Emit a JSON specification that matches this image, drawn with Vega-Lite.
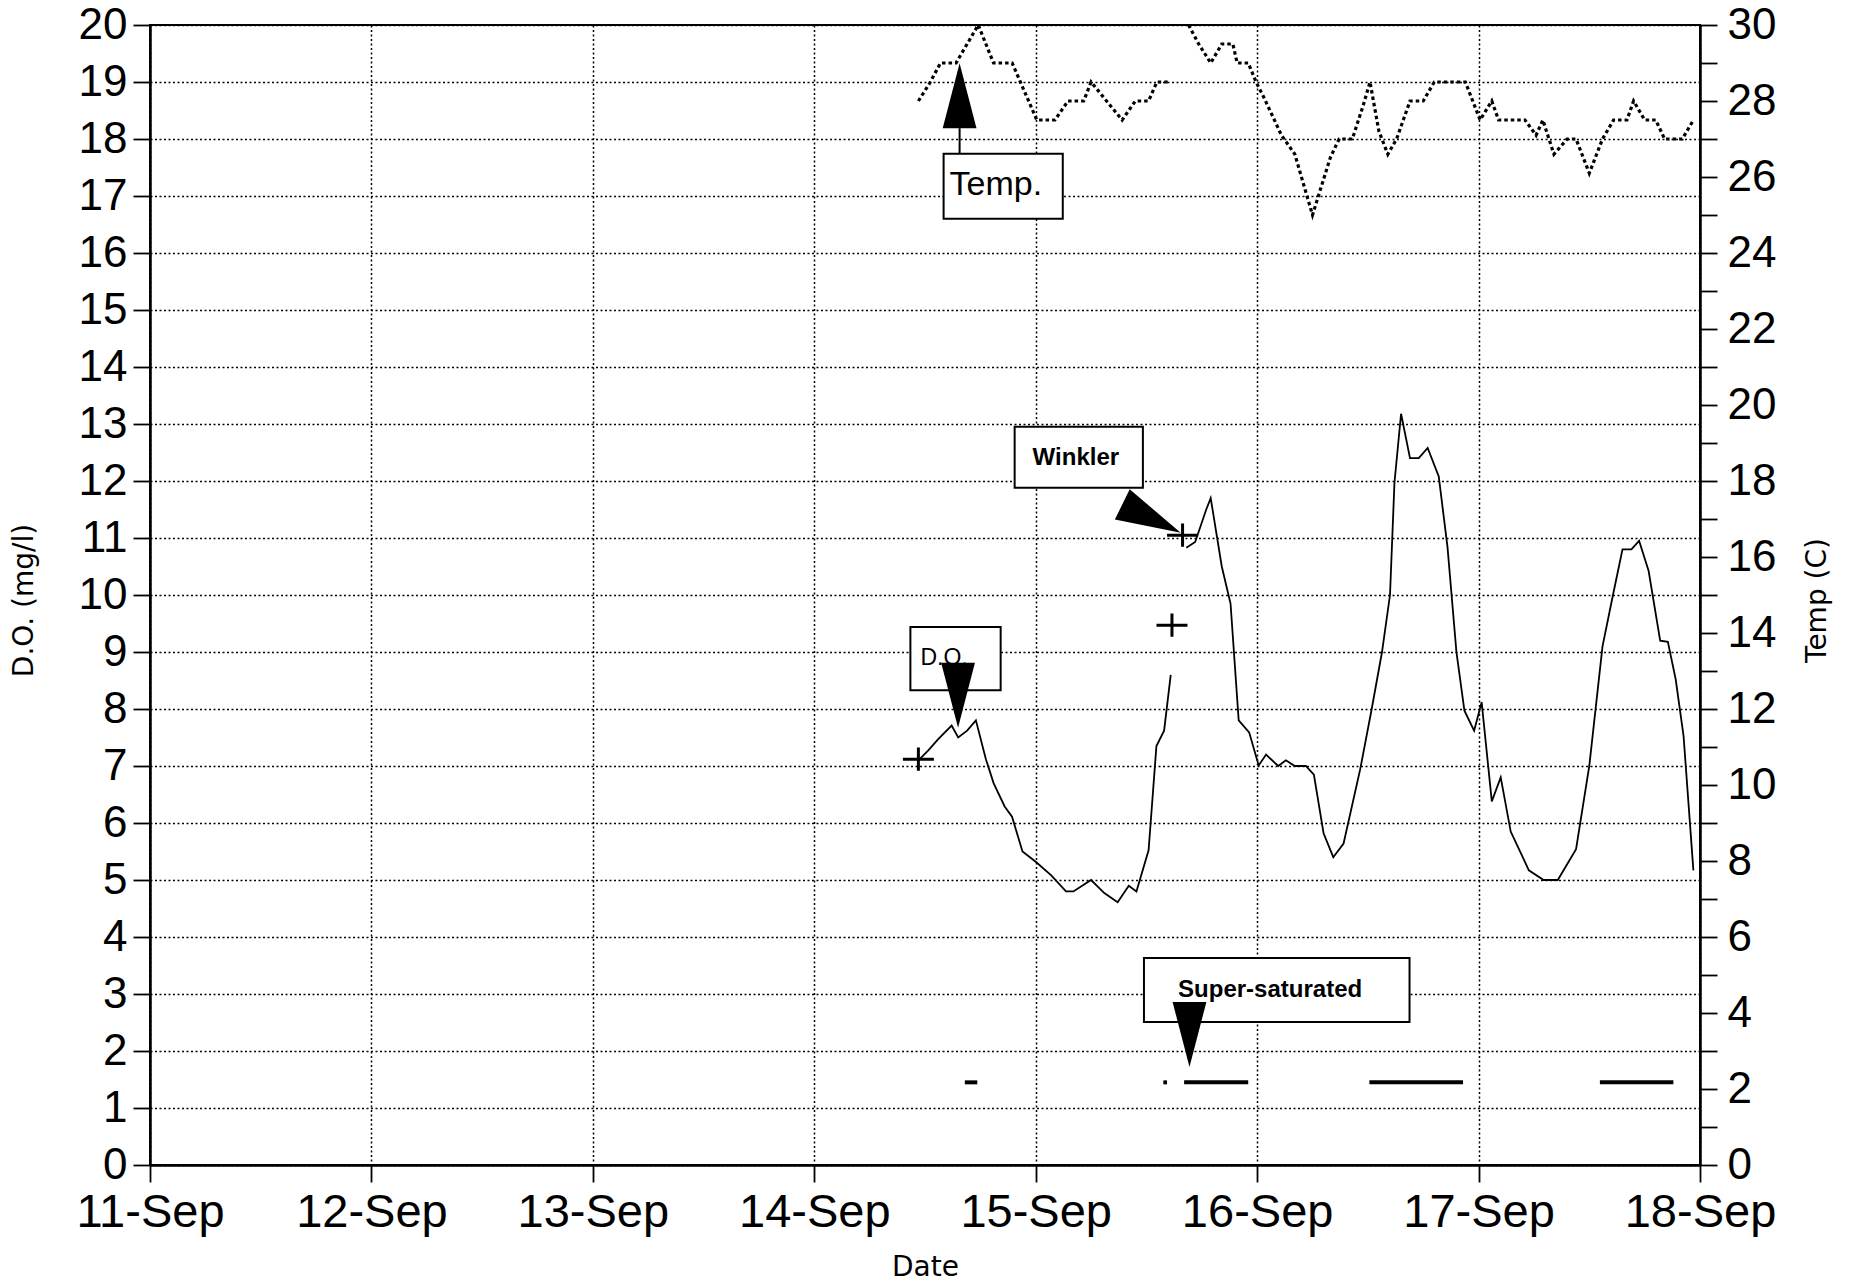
{
  "$schema": "https://vega.github.io/schema/vega-lite/v6.json",
  "width": 1550,
  "height": 1140,
  "autosize": {"type": "none"},
  "padding": {"left": 150, "top": 25, "right": 158, "bottom": 119},
  "background": "white",
  "config": {
    "view": {"stroke": "black", "strokeWidth": 2},
    "font": "Liberation Sans",
    "axis": {
      "domainColor": "black", "domainWidth": 2.5,
      "tickColor": "black", "tickWidth": 1.8, "tickSize": 17,
      "labelColor": "black", "labelFont": "Liberation Sans",
      "titleColor": "black", "titleFont": "DejaVu Sans", "titleFontWeight": "normal",
      "gridColor": "black", "gridDash": [2, 2.5], "gridWidth": 1.5, "gridOpacity": 1,
      "labelOverlap": false, "labelBound": false
    }
  },
  "datasets": {
    "do": [
      {"t": "1995-09-14T11:17", "v": 7.1, "seg": 1},
      {"t": "1995-09-14T12:20", "v": 7.27, "seg": 1},
      {"t": "1995-09-14T13:26", "v": 7.47, "seg": 1},
      {"t": "1995-09-14T14:53", "v": 7.71, "seg": 1},
      {"t": "1995-09-14T15:36", "v": 7.5, "seg": 1},
      {"t": "1995-09-14T16:34", "v": 7.62, "seg": 1},
      {"t": "1995-09-14T17:31", "v": 7.8, "seg": 1},
      {"t": "1995-09-14T18:36", "v": 7.12, "seg": 1},
      {"t": "1995-09-14T19:26", "v": 6.7, "seg": 1},
      {"t": "1995-09-14T20:38", "v": 6.29, "seg": 1},
      {"t": "1995-09-14T21:26", "v": 6.11, "seg": 1},
      {"t": "1995-09-14T22:34", "v": 5.5, "seg": 1},
      {"t": "1995-09-15T00:00", "v": 5.32, "seg": 1},
      {"t": "1995-09-15T01:41", "v": 5.08, "seg": 1},
      {"t": "1995-09-15T03:17", "v": 4.8, "seg": 1},
      {"t": "1995-09-15T04:05", "v": 4.8, "seg": 1},
      {"t": "1995-09-15T06:00", "v": 5.0, "seg": 1},
      {"t": "1995-09-15T07:26", "v": 4.77, "seg": 1},
      {"t": "1995-09-15T08:53", "v": 4.61, "seg": 1},
      {"t": "1995-09-15T10:05", "v": 4.9, "seg": 1},
      {"t": "1995-09-15T10:55", "v": 4.8, "seg": 1},
      {"t": "1995-09-15T12:14", "v": 5.52, "seg": 1},
      {"t": "1995-09-15T13:05", "v": 7.35, "seg": 1},
      {"t": "1995-09-15T13:55", "v": 7.62, "seg": 1},
      {"t": "1995-09-15T14:38", "v": 8.6, "seg": 1},
      {"t": "1995-09-15T16:19", "v": 10.83, "seg": 2},
      {"t": "1995-09-15T17:17", "v": 10.93, "seg": 2},
      {"t": "1995-09-15T18:29", "v": 11.5, "seg": 2},
      {"t": "1995-09-15T18:58", "v": 11.7, "seg": 2},
      {"t": "1995-09-15T20:10", "v": 10.5, "seg": 2},
      {"t": "1995-09-15T21:07", "v": 9.85, "seg": 2},
      {"t": "1995-09-15T22:00", "v": 7.8, "seg": 2},
      {"t": "1995-09-15T23:08", "v": 7.59, "seg": 2},
      {"t": "1995-09-16T00:10", "v": 7.01, "seg": 2},
      {"t": "1995-09-16T00:58", "v": 7.2, "seg": 2},
      {"t": "1995-09-16T02:17", "v": 7.0, "seg": 2},
      {"t": "1995-09-16T03:07", "v": 7.1, "seg": 2},
      {"t": "1995-09-16T04:05", "v": 7.0, "seg": 2},
      {"t": "1995-09-16T05:17", "v": 7.0, "seg": 2},
      {"t": "1995-09-16T06:09", "v": 6.85, "seg": 2},
      {"t": "1995-09-16T07:12", "v": 5.82, "seg": 2},
      {"t": "1995-09-16T08:15", "v": 5.4, "seg": 2},
      {"t": "1995-09-16T09:22", "v": 5.64, "seg": 2},
      {"t": "1995-09-16T11:10", "v": 6.94, "seg": 2},
      {"t": "1995-09-16T12:25", "v": 8.0, "seg": 2},
      {"t": "1995-09-16T13:32", "v": 9.0, "seg": 2},
      {"t": "1995-09-16T14:24", "v": 10.0, "seg": 2},
      {"t": "1995-09-16T14:53", "v": 11.97, "seg": 2},
      {"t": "1995-09-16T15:36", "v": 13.18, "seg": 2},
      {"t": "1995-09-16T16:34", "v": 12.4, "seg": 2},
      {"t": "1995-09-16T17:31", "v": 12.4, "seg": 2},
      {"t": "1995-09-16T18:29", "v": 12.58, "seg": 2},
      {"t": "1995-09-16T19:41", "v": 12.08, "seg": 2},
      {"t": "1995-09-16T20:38", "v": 10.84, "seg": 2},
      {"t": "1995-09-16T21:36", "v": 9.0, "seg": 2},
      {"t": "1995-09-16T22:28", "v": 7.97, "seg": 2},
      {"t": "1995-09-16T23:31", "v": 7.62, "seg": 2},
      {"t": "1995-09-17T00:20", "v": 8.12, "seg": 2},
      {"t": "1995-09-17T01:26", "v": 6.38, "seg": 2},
      {"t": "1995-09-17T02:24", "v": 6.8, "seg": 2},
      {"t": "1995-09-17T03:29", "v": 5.85, "seg": 2},
      {"t": "1995-09-17T05:27", "v": 5.17, "seg": 2},
      {"t": "1995-09-17T07:03", "v": 5.0, "seg": 2},
      {"t": "1995-09-17T08:35", "v": 5.0, "seg": 2},
      {"t": "1995-09-17T10:34", "v": 5.54, "seg": 2},
      {"t": "1995-09-17T12:00", "v": 7.0, "seg": 2},
      {"t": "1995-09-17T13:26", "v": 9.1, "seg": 2},
      {"t": "1995-09-17T14:34", "v": 10.0, "seg": 2},
      {"t": "1995-09-17T15:36", "v": 10.8, "seg": 2},
      {"t": "1995-09-17T16:34", "v": 10.8, "seg": 2},
      {"t": "1995-09-17T17:24", "v": 10.95, "seg": 2},
      {"t": "1995-09-17T18:26", "v": 10.42, "seg": 2},
      {"t": "1995-09-17T19:41", "v": 9.2, "seg": 2},
      {"t": "1995-09-17T20:31", "v": 9.18, "seg": 2},
      {"t": "1995-09-17T21:22", "v": 8.52, "seg": 2},
      {"t": "1995-09-17T22:13", "v": 7.53, "seg": 2},
      {"t": "1995-09-17T23:17", "v": 5.17, "seg": 2}
    ],
    "temp": [
      {"t": "1995-09-14T11:17", "v": 28.0, "seg": 1},
      {"t": "1995-09-14T12:29", "v": 28.46, "seg": 1},
      {"t": "1995-09-14T13:41", "v": 29.0, "seg": 1},
      {"t": "1995-09-14T15:22", "v": 29.0, "seg": 1},
      {"t": "1995-09-14T17:46", "v": 30.0, "seg": 1},
      {"t": "1995-09-14T19:26", "v": 29.0, "seg": 1},
      {"t": "1995-09-14T21:27", "v": 29.0, "seg": 1},
      {"t": "1995-09-15T00:07", "v": 27.5, "seg": 1},
      {"t": "1995-09-15T02:05", "v": 27.5, "seg": 1},
      {"t": "1995-09-15T03:30", "v": 28.0, "seg": 1},
      {"t": "1995-09-15T05:12", "v": 28.0, "seg": 1},
      {"t": "1995-09-15T06:00", "v": 28.5, "seg": 1},
      {"t": "1995-09-15T07:41", "v": 28.0, "seg": 1},
      {"t": "1995-09-15T09:22", "v": 27.5, "seg": 1},
      {"t": "1995-09-15T10:48", "v": 28.0, "seg": 1},
      {"t": "1995-09-15T12:14", "v": 28.0, "seg": 1},
      {"t": "1995-09-15T13:08", "v": 28.5, "seg": 1},
      {"t": "1995-09-15T14:33", "v": 28.5, "seg": 1},
      {"t": "1995-09-15T16:34", "v": 30.0, "seg": 2},
      {"t": "1995-09-15T17:40", "v": 29.5, "seg": 2},
      {"t": "1995-09-15T18:58", "v": 29.0, "seg": 2},
      {"t": "1995-09-15T20:10", "v": 29.5, "seg": 2},
      {"t": "1995-09-15T21:22", "v": 29.5, "seg": 2},
      {"t": "1995-09-15T21:50", "v": 29.0, "seg": 2},
      {"t": "1995-09-15T23:02", "v": 29.0, "seg": 2},
      {"t": "1995-09-15T23:53", "v": 28.5, "seg": 2},
      {"t": "1995-09-16T00:43", "v": 28.1, "seg": 2},
      {"t": "1995-09-16T02:38", "v": 27.1, "seg": 2},
      {"t": "1995-09-16T04:05", "v": 26.6, "seg": 2},
      {"t": "1995-09-16T06:00", "v": 25.0, "seg": 2},
      {"t": "1995-09-16T07:55", "v": 26.5, "seg": 2},
      {"t": "1995-09-16T08:53", "v": 27.0, "seg": 2},
      {"t": "1995-09-16T10:19", "v": 27.0, "seg": 2},
      {"t": "1995-09-16T11:31", "v": 27.9, "seg": 2},
      {"t": "1995-09-16T12:14", "v": 28.5, "seg": 2},
      {"t": "1995-09-16T13:12", "v": 27.2, "seg": 2},
      {"t": "1995-09-16T14:10", "v": 26.6, "seg": 2},
      {"t": "1995-09-16T15:07", "v": 27.0, "seg": 2},
      {"t": "1995-09-16T16:34", "v": 28.0, "seg": 2},
      {"t": "1995-09-16T18:00", "v": 28.0, "seg": 2},
      {"t": "1995-09-16T19:12", "v": 28.5, "seg": 2},
      {"t": "1995-09-16T22:34", "v": 28.5, "seg": 2},
      {"t": "1995-09-17T00:10", "v": 27.5, "seg": 2},
      {"t": "1995-09-17T01:26", "v": 28.0, "seg": 2},
      {"t": "1995-09-17T02:10", "v": 27.5, "seg": 2},
      {"t": "1995-09-17T05:02", "v": 27.5, "seg": 2},
      {"t": "1995-09-17T06:14", "v": 27.1, "seg": 2},
      {"t": "1995-09-17T06:58", "v": 27.5, "seg": 2},
      {"t": "1995-09-17T08:10", "v": 26.6, "seg": 2},
      {"t": "1995-09-17T09:36", "v": 27.0, "seg": 2},
      {"t": "1995-09-17T10:34", "v": 27.0, "seg": 2},
      {"t": "1995-09-17T12:00", "v": 26.1, "seg": 2},
      {"t": "1995-09-17T13:26", "v": 27.0, "seg": 2},
      {"t": "1995-09-17T14:38", "v": 27.5, "seg": 2},
      {"t": "1995-09-17T16:05", "v": 27.5, "seg": 2},
      {"t": "1995-09-17T16:48", "v": 28.0, "seg": 2},
      {"t": "1995-09-17T18:00", "v": 27.5, "seg": 2},
      {"t": "1995-09-17T19:12", "v": 27.5, "seg": 2},
      {"t": "1995-09-17T20:10", "v": 27.0, "seg": 2},
      {"t": "1995-09-17T22:05", "v": 27.0, "seg": 2},
      {"t": "1995-09-17T23:17", "v": 27.5, "seg": 2}
    ],
    "winkler": [
      {"t": "1995-09-14T11:17", "v": 7.12},
      {"t": "1995-09-15T14:46", "v": 9.47},
      {"t": "1995-09-15T15:55", "v": 11.05}
    ],
    "supersat": [
      {"t": "1995-09-14T16:19", "t2": "1995-09-14T17:40", "v": 1.45},
      {"t": "1995-09-15T13:50", "t2": "1995-09-15T14:14", "v": 1.45},
      {"t": "1995-09-15T16:05", "t2": "1995-09-15T23:02", "v": 1.45},
      {"t": "1995-09-16T12:10", "t2": "1995-09-16T22:19", "v": 1.45},
      {"t": "1995-09-17T13:09", "t2": "1995-09-17T21:07", "v": 1.45}
    ],
    "boxes": [
      {"t": "1995-09-14T14:01", "t2": "1995-09-15T02:56", "v": 16.6, "v2": 17.74},
      {"t": "1995-09-14T10:25", "t2": "1995-09-14T20:12", "v": 8.33, "v2": 9.44},
      {"t": "1995-09-14T21:43", "t2": "1995-09-15T11:37", "v": 11.88, "v2": 12.95},
      {"t": "1995-09-15T11:44", "t2": "1995-09-16T16:31", "v": 2.51, "v2": 3.63}
    ],
    "stem": [
      {"t": "1995-09-14T15:45", "v": 17.74, "v2": 18.19}
    ],
    "upArrows": [{"t": "1995-09-14T15:45", "v": 18.76}],
    "downArrows": [
      {"t": "1995-09-14T15:35", "v": 8.24},
      {"t": "1995-09-15T16:40", "v": 2.29}
    ],
    "winklerArrow": [{"t": "1995-09-15T12:33", "v": 11.34}],
    "tempLabel": [{"t": "1995-09-14T14:40", "v": 17.02, "text": "Temp."}],
    "doLabel": [{"t": "1995-09-14T11:30", "v": 8.77, "text": "D.O."}],
    "winklerLabel": [{"t": "1995-09-15T04:21", "v": 12.28, "text": "Winkler"}],
    "satLabel": [{"t": "1995-09-15T15:26", "v": 2.95, "text": "Super-saturated"}]
  },
  "encoding": {
    "x": {
      "field": "t", "type": "temporal",
      "scale": {"domain": [{"year": 1995, "month": "sep", "date": 11}, {"year": 1995, "month": "sep", "date": 18}]},
      "axis": {
        "title": "Date", "format": "%d-%b", "tickCount": {"interval": "day", "step": 1},
        "grid": true, "labelFontSize": 47, "labelPadding": 7, "labelFlush": false,
        "titleFontSize": 28, "titleY": 110, "titleBaseline": "alphabetic"
      }
    }
  },
  "layer": [
    {
      "data": {"name": "do"},
      "mark": {"type": "line", "color": "black", "strokeWidth": 1.8},
      "encoding": {
        "y": {
          "field": "v", "type": "quantitative",
          "scale": {"domain": [0, 20]},
          "axis": {
            "orient": "left", "title": "D.O. (mg/l)", "grid": true,
            "values": [0,1,2,3,4,5,6,7,8,9,10,11,12,13,14,15,16,17,18,19,20],
            "labelFontSize": 44, "labelPadding": 6,
            "titleFontSize": 28, "titleAngle": 270, "titleX": -118, "titleY": 575, "titleAlign": "center", "titleBaseline": "alphabetic"
          }
        },
        "detail": {"field": "seg", "type": "nominal"}
      }
    },
    {
      "data": {"name": "temp"},
      "mark": {"type": "line", "color": "black", "strokeWidth": 3.2, "strokeDash": [3.5, 3], "clip": true},
      "encoding": {
        "y": {
          "field": "v", "type": "quantitative",
          "scale": {"domain": [0, 30]},
          "axis": {
            "orient": "right", "title": "Temp (C)", "grid": false,
            "values": [0,1,2,3,4,5,6,7,8,9,10,11,12,13,14,15,16,17,18,19,20,21,22,23,24,25,26,27,28,29,30],
            "labelExpr": "datum.value % 2 === 0 ? datum.label : ''",
            "labelFontSize": 44, "labelPadding": 10,
            "titleFontSize": 28, "titleAngle": 270, "titleX": 125, "titleY": 575, "titleAlign": "center", "titleBaseline": "alphabetic"
          }
        },
        "detail": {"field": "seg", "type": "nominal"}
      }
    },
    {
      "data": {"name": "supersat"},
      "mark": {"type": "rule", "color": "black", "strokeWidth": 4},
      "encoding": {
        "x2": {"field": "t2"},
        "y": {"field": "v", "type": "quantitative", "scale": {"domain": [0, 20]}, "axis": null}
      }
    },
    {
      "data": {"name": "winkler"},
      "mark": {"type": "point", "shape": "M-1,0L1,0M0,-0.75L0,0.75", "filled": false, "color": "black", "strokeWidth": 3, "size": 961, "opacity": 1},
      "encoding": {
        "y": {"field": "v", "type": "quantitative", "scale": {"domain": [0, 20]}, "axis": null}
      }
    },
    {
      "data": {"name": "boxes"},
      "mark": {"type": "rect", "fill": "white", "stroke": "black", "strokeWidth": 2},
      "encoding": {
        "x2": {"field": "t2"},
        "y": {"field": "v", "type": "quantitative", "scale": {"domain": [0, 20]}, "axis": null},
        "y2": {"field": "v2"}
      }
    },
    {
      "data": {"name": "stem"},
      "mark": {"type": "rule", "color": "black", "strokeWidth": 2},
      "encoding": {
        "y": {"field": "v", "type": "quantitative", "scale": {"domain": [0, 20]}, "axis": null},
        "y2": {"field": "v2"}
      }
    },
    {
      "data": {"name": "tempLabel"},
      "mark": {"type": "text", "align": "left", "baseline": "alphabetic", "fontSize": 34, "font": "Liberation Sans", "color": "black"},
      "encoding": {
        "y": {"field": "v", "type": "quantitative", "scale": {"domain": [0, 20]}, "axis": null},
        "text": {"field": "text"}
      }
    },
    {
      "data": {"name": "doLabel"},
      "mark": {"type": "text", "align": "left", "baseline": "alphabetic", "fontSize": 23, "font": "Liberation Sans", "color": "black"},
      "encoding": {
        "y": {"field": "v", "type": "quantitative", "scale": {"domain": [0, 20]}, "axis": null},
        "text": {"field": "text"}
      }
    },
    {
      "data": {"name": "winklerLabel"},
      "mark": {"type": "text", "align": "center", "baseline": "alphabetic", "fontSize": 24, "fontWeight": "bold", "font": "Liberation Sans", "color": "black"},
      "encoding": {
        "y": {"field": "v", "type": "quantitative", "scale": {"domain": [0, 20]}, "axis": null},
        "text": {"field": "text"}
      }
    },
    {
      "data": {"name": "satLabel"},
      "mark": {"type": "text", "align": "left", "baseline": "alphabetic", "fontSize": 24, "fontWeight": "bold", "font": "Liberation Sans", "color": "black"},
      "encoding": {
        "y": {"field": "v", "type": "quantitative", "scale": {"domain": [0, 20]}, "axis": null},
        "text": {"field": "text"}
      }
    },
    {
      "data": {"name": "upArrows"},
      "mark": {"type": "point", "shape": "M0,-1L0.52,1L-0.52,1Z", "filled": true, "color": "black", "size": 4225, "opacity": 1},
      "encoding": {
        "y": {"field": "v", "type": "quantitative", "scale": {"domain": [0, 20]}, "axis": null}
      }
    },
    {
      "data": {"name": "downArrows"},
      "mark": {"type": "point", "shape": "M0,1L0.52,-1L-0.52,-1Z", "filled": true, "color": "black", "size": 4225, "opacity": 1},
      "encoding": {
        "y": {"field": "v", "type": "quantitative", "scale": {"domain": [0, 20]}, "axis": null}
      }
    },
    {
      "data": {"name": "winklerArrow"},
      "mark": {"type": "point", "shape": "M0,-1L0.52,1L-0.52,1Z", "filled": true, "color": "black", "size": 4225, "angle": 116, "opacity": 1},
      "encoding": {
        "y": {"field": "v", "type": "quantitative", "scale": {"domain": [0, 20]}, "axis": null}
      }
    }
  ],
  "resolve": {"scale": {"y": "independent"}, "axis": {"y": "independent"}}
}
